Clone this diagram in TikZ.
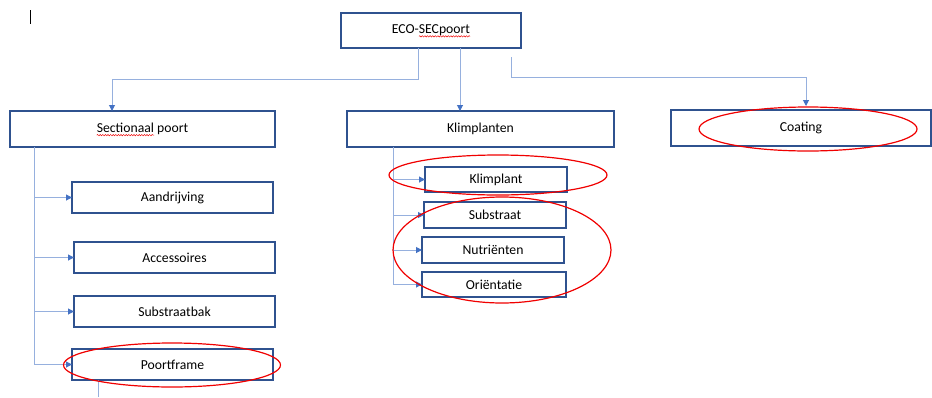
\documentclass[tikz,border=0pt]{standalone}
\usepackage{fontspec}
\setmainfont{Carlito}
\usetikzlibrary{arrows.meta,decorations.pathmorphing,calc}
\definecolor{boxblue}{RGB}{47,82,143}
\definecolor{linkblue}{RGB}{150,176,222}
\definecolor{tipblue}{RGB}{68,114,196}
\definecolor{markred}{RGB}{240,0,0}
\AtBeginDocument{\fontsize{13.7}{16}\selectfont}
\begin{document}
\begin{tikzpicture}[x=1pt,y=-1pt,
  box/.style={draw=boxblue,line width=1.3pt,fill=white,inner sep=0pt,outer sep=0pt,
    rectangle,font=\fontsize{13.7}{16}\selectfont},
  conn/.style={draw=linkblue,line width=1pt,-{Triangle[width=6pt,length=6pt,color=tipblue]}},
  plainlink/.style={draw=linkblue,line width=1pt},
  redring/.style={draw=markred,line width=1.2pt},
  squiggle/.style={draw=markred,line width=0.45pt,decorate,
    decoration={snake,amplitude=0.7pt,segment length=2.6pt}}
]
\useasboundingbox (0,0) rectangle (932,397);

% text cursor
\coordinate (cur1) at (30,10);
\coordinate (cur2) at (30,24);
\draw[line width=1pt] (cur1) -- (cur2);

% boxes
\node[box,minimum width=180pt,minimum height=35pt] (top) at (431,30.5) {ECO-SECpoort};
\node[box,minimum width=265pt,minimum height=36pt] (sec) at (142.5,129) {Sectionaal poort};
\node[box,minimum width=267pt,minimum height=36pt] (kl) at (480.5,129) {Klimplanten};
\node[box,minimum width=260pt,minimum height=36pt] (coat) at (801,128) {Coating};

\node[box,minimum width=201pt,minimum height=31pt] (aan) at (172.5,197.5) {Aandrijving};
\node[box,minimum width=201pt,minimum height=31pt] (acc) at (174.5,257.5) {Accessoires};
\node[box,minimum width=201pt,minimum height=31pt] (sub) at (174.5,311.5) {Substraatbak};
\node[box,minimum width=201pt,minimum height=31pt] (pf) at (172.5,364.5) {Poortframe};

\node[box,minimum width=142pt,minimum height=25pt] (klp) at (496,179.5) {Klimplant};
\node[box,minimum width=142pt,minimum height=26pt] (sbs) at (495,215) {Substraat};
\node[box,minimum width=142pt,minimum height=26pt] (nut) at (493,250) {Nutriënten};
\node[box,minimum width=144pt,minimum height=25pt] (ori) at (494,284.5) {Oriëntatie};

% spelling squiggles
\pgfmathsetmacro\wt{width("ECO-SECpoort")}
\pgfmathsetmacro\wa{width("ECO-")}
\pgfmathsetmacro\ws{width("Sectionaal poort")}
\pgfmathsetmacro\wsa{width("Sectionaal")}
\draw[squiggle] ($(top.base)+(\wa-\wt/2,2.5)$) -- ($(top.base)+(\wt/2,2.5)$);
\draw[squiggle] ($(sec.base)+(-\ws/2,2.5)$) -- ($(sec.base)+(\wsa-\ws/2,2.5)$);

% top-level connectors
\draw[conn] ([xshift=-13pt]top.south) -- ++(0,31) -| ([xshift=-30.5pt]sec.north);
\draw[conn] ([xshift=29pt]top.south) -- ([xshift=-20.5pt]kl.north);
\draw[conn] ([xshift=80pt,yshift=-9pt]top.south) -- ++(0,20) -| ([xshift=5pt,yshift=4pt]coat.north);

% left column
\coordinate (lv) at ([xshift=-108.5pt]sec.south);
\draw[plainlink] (lv) -- (lv |- pf.west);
\foreach \n in {aan,acc,sub,pf} \draw[conn] (lv |- \n.west) -- (\n.west);
\coordinate (pfout) at ([xshift=-74.5pt,yshift=-17pt]pf.south);
\draw[plainlink] ([xshift=-74.5pt]pf.south) -- (pfout);

% middle column
\coordinate (mv) at ([xshift=-87.5pt]kl.south);
\draw[plainlink] (mv) -- (mv |- ori.west);
\foreach \n in {klp,sbs,nut,ori} \draw[conn] (mv |- \n.west) -- (\n.west);

% red highlight ellipses
\draw[redring] (172,365) ellipse [x radius=108.5pt, y radius=22pt];
\draw[redring] (498,175) ellipse [x radius=109pt, y radius=20pt];
\draw[redring] (502,250) ellipse [x radius=109pt, y radius=53pt];
\draw[redring] (808,129) ellipse [x radius=109pt, y radius=22pt];
\end{tikzpicture}
\end{document}
